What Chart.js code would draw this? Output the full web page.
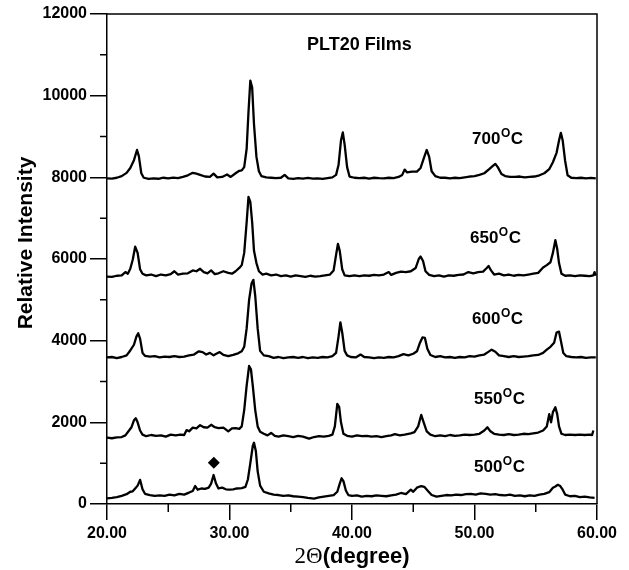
<!DOCTYPE html>
<html>
<head>
<meta charset="utf-8">
<script src="https://cdn.jsdelivr.net/npm/chart.js@4"></script>
<style>
  html, body { margin: 0; padding: 0; background: #fff; }
  #wrap { width: 629px; height: 570px; }
</style>
</head>
<body>
<div id="wrap"><canvas id="c" width="629" height="570"></canvas></div>
<script>
// ---- data (2θ in degrees, intensity in counts) ----
const angles700 = [20.0,20.4,20.8,21.2,21.6,21.9,22.2,22.45,22.6,22.8,23.0,23.4,23.8,24.2,24.6,25.0,25.4,25.8,26.2,26.6,27.0,27.3,27.6,28.0,28.4,28.7,29.0,29.4,29.8,30.1,30.5,30.8,31.0,31.2,31.4,31.55,31.7,31.85,32.0,32.2,32.4,32.6,33.0,33.4,33.8,34.2,34.5,34.8,35.2,35.6,36.0,36.4,36.8,37.2,37.6,38.0,38.4,38.7,38.9,39.1,39.25,39.4,39.6,39.8,40.2,40.6,41.0,41.4,41.8,42.2,42.6,43.0,43.4,43.8,44.1,44.3,44.5,44.9,45.3,45.6,45.9,46.1,46.3,46.5,46.8,47.2,47.6,48.0,48.4,48.8,49.2,49.6,50.0,50.4,50.8,51.2,51.5,51.7,51.9,52.2,52.5,52.9,53.3,53.7,54.1,54.5,54.9,55.3,55.7,56.1,56.4,56.7,56.9,57.05,57.2,57.4,57.6,57.9,58.3,58.7,59.1,59.5,59.9];
const counts700 = [7975,7970,7990,8030,8110,8230,8420,8670,8520,8100,7990,7960,7975,7965,7990,7975,7995,7980,8010,8050,8110,8090,8060,8020,8010,8090,8000,8010,8070,8010,8100,8160,8170,8250,8700,9600,10370,10200,9300,8500,8150,8030,8000,7990,7980,7990,8060,7975,7960,7980,7970,7985,7970,7975,7960,7980,8000,8060,8300,8900,9100,8800,8250,8020,7990,7980,7990,7970,7990,7980,7975,7990,7980,8010,8060,8190,8120,8140,8140,8230,8500,8670,8500,8150,8030,7990,7990,7975,7990,7980,8000,8020,8030,8060,8100,8200,8280,8330,8250,8080,8030,8010,8010,8020,8000,8010,8020,8050,8100,8200,8370,8600,8900,9090,8900,8400,8050,7990,7980,7990,7975,7985,7975];

const angles650 = [20.0,20.4,20.8,21.2,21.5,21.7,21.9,22.1,22.3,22.5,22.7,22.9,23.2,23.6,24.0,24.4,24.8,25.2,25.5,25.8,26.2,26.6,27.0,27.3,27.6,27.9,28.2,28.5,28.8,29.1,29.5,29.9,30.2,30.5,30.8,31.0,31.2,31.4,31.55,31.7,31.85,32.0,32.2,32.4,32.7,33.0,33.4,33.8,34.2,34.6,35.0,35.4,35.8,36.2,36.6,37.0,37.4,37.8,38.2,38.5,38.7,38.85,39.0,39.2,39.4,39.8,40.2,40.6,41.0,41.4,41.8,42.2,42.6,43.0,43.2,43.6,44.0,44.4,44.8,45.2,45.45,45.6,45.8,46.0,46.3,46.7,47.1,47.5,47.9,48.3,48.7,49.1,49.5,49.9,50.3,50.7,51.0,51.15,51.35,51.6,52.0,52.4,52.8,53.2,53.6,54.0,54.4,54.8,55.2,55.6,55.9,56.2,56.4,56.6,56.75,56.9,57.1,57.4,57.8,58.2,58.6,59.0,59.4,59.7,59.8,59.9];
const counts650 = [5570,5560,5590,5600,5680,5640,5760,5980,6300,6150,5750,5640,5600,5620,5580,5620,5600,5630,5700,5620,5640,5650,5720,5700,5760,5680,5650,5720,5630,5650,5700,5660,5640,5700,5780,5850,6150,6900,7520,7400,6900,6200,5900,5700,5620,5640,5600,5620,5580,5600,5570,5600,5580,5560,5590,5570,5580,5600,5620,5720,6100,6370,6200,5750,5600,5580,5600,5580,5600,5590,5610,5600,5620,5680,5610,5660,5690,5680,5700,5780,6000,6060,5950,5700,5610,5580,5600,5570,5600,5590,5610,5620,5680,5650,5680,5690,5780,5830,5720,5620,5640,5600,5620,5590,5610,5600,5620,5640,5660,5790,5850,5920,6150,6460,6250,5900,5640,5590,5600,5580,5600,5590,5580,5600,5680,5590];

const angles600 = [20.0,20.4,20.8,21.2,21.6,21.9,22.2,22.4,22.55,22.7,22.9,23.1,23.5,23.9,24.3,24.7,25.1,25.5,25.9,26.3,26.7,27.1,27.5,27.8,28.1,28.4,28.7,29.0,29.2,29.5,29.9,30.3,30.7,31.0,31.2,31.4,31.6,31.8,31.95,32.1,32.3,32.5,32.8,33.2,33.6,34.0,34.4,34.8,35.2,35.6,36.0,36.4,36.8,37.2,37.6,38.0,38.4,38.7,38.9,39.05,39.2,39.4,39.6,39.9,40.3,40.7,41.0,41.4,41.8,42.2,42.6,43.0,43.4,43.8,44.2,44.6,45.0,45.3,45.55,45.75,45.95,46.15,46.4,46.8,47.2,47.6,48.0,48.4,48.8,49.2,49.6,50.0,50.4,50.8,51.1,51.4,51.7,52.0,52.4,52.8,53.2,53.6,54.0,54.4,54.8,55.2,55.6,55.9,56.2,56.5,56.7,56.9,57.05,57.25,57.5,57.9,58.3,58.7,59.1,59.5,59.9];
const counts600 = [3590,3600,3575,3600,3640,3760,3900,4100,4180,4050,3700,3630,3610,3620,3590,3610,3600,3620,3600,3610,3640,3660,3740,3720,3660,3700,3640,3690,3720,3650,3620,3650,3690,3740,3850,4300,5000,5400,5490,5100,4300,3750,3640,3620,3580,3600,3570,3590,3600,3580,3600,3570,3590,3580,3600,3590,3620,3700,4100,4450,4200,3750,3640,3600,3590,3660,3600,3590,3570,3590,3580,3600,3590,3620,3670,3640,3680,3740,3950,4080,4070,3800,3650,3600,3620,3590,3600,3580,3600,3590,3620,3610,3640,3660,3720,3780,3730,3640,3620,3600,3620,3600,3610,3620,3640,3650,3700,3780,3850,3950,4200,4220,4000,3700,3620,3600,3590,3600,3580,3590,3590];

const angles550 = [20.0,20.4,20.8,21.2,21.5,21.8,22.0,22.2,22.35,22.5,22.7,22.9,23.2,23.6,24.0,24.4,24.8,25.2,25.6,26.0,26.3,26.5,26.7,27.0,27.3,27.6,27.9,28.2,28.5,28.8,29.1,29.5,29.9,30.2,30.5,30.8,31.0,31.2,31.4,31.6,31.75,31.9,32.1,32.3,32.5,32.8,33.1,33.4,33.7,34.0,34.4,34.8,35.2,35.6,36.0,36.5,36.9,37.3,37.7,38.1,38.4,38.6,38.8,38.95,39.1,39.3,39.6,40.0,40.4,40.8,41.2,41.6,42.0,42.4,42.8,43.2,43.5,43.9,44.3,44.8,45.1,45.4,45.65,45.85,46.1,46.4,46.8,47.2,47.6,48.0,48.4,48.8,49.2,49.6,50.0,50.4,50.8,51.05,51.3,51.6,52.0,52.4,52.8,53.2,53.6,54.0,54.4,54.8,55.2,55.6,55.9,56.1,56.25,56.4,56.6,56.75,56.9,57.1,57.4,57.8,58.2,58.6,59.0,59.4,59.6,59.7];
const counts550 = [1625,1610,1630,1640,1680,1800,1880,2050,2100,2000,1800,1700,1660,1690,1670,1680,1650,1700,1680,1700,1690,1810,1780,1870,1850,1930,1880,1870,1940,1880,1860,1870,1780,1850,1860,1840,1900,2300,2900,3380,3300,2900,2300,1900,1770,1720,1680,1740,1670,1650,1680,1660,1640,1670,1650,1600,1640,1660,1650,1670,1700,1900,2450,2380,2000,1720,1670,1650,1680,1660,1670,1650,1660,1640,1660,1680,1710,1680,1700,1730,1760,1900,2180,2000,1780,1700,1660,1680,1660,1690,1670,1680,1700,1690,1700,1720,1800,1880,1780,1720,1700,1690,1710,1690,1700,1720,1710,1730,1750,1800,1900,2200,2000,2250,2370,2200,1900,1720,1690,1700,1690,1700,1690,1700,1690,1800];

const angles500 = [20.0,20.4,20.8,21.2,21.6,21.9,22.1,22.3,22.5,22.7,22.9,23.1,23.5,23.9,24.3,24.7,25.1,25.5,25.9,26.3,26.7,27.0,27.2,27.4,27.7,28.0,28.3,28.5,28.7,28.9,29.1,29.4,29.7,30.0,30.3,30.6,31.0,31.3,31.5,31.7,31.9,32.0,32.15,32.3,32.5,32.8,33.2,33.6,34.0,34.4,34.8,35.2,35.6,36.0,36.4,36.9,37.3,37.7,38.1,38.5,38.8,39.0,39.15,39.3,39.5,39.7,40.0,40.4,40.8,41.2,41.6,42.0,42.4,42.8,43.2,43.6,44.0,44.4,44.8,45.0,45.3,45.65,45.9,46.2,46.5,46.9,47.3,47.7,48.1,48.5,48.9,49.3,49.7,50.1,50.5,50.9,51.3,51.7,52.1,52.5,52.9,53.3,53.7,54.1,54.5,54.9,55.3,55.7,56.1,56.4,56.6,56.8,57.0,57.2,57.4,57.8,58.2,58.6,59.0,59.4,59.8];
const counts500 = [140,150,170,200,240,300,310,380,450,590,360,250,220,200,210,200,230,210,250,230,280,320,440,350,380,370,400,500,710,500,380,400,360,350,360,380,390,420,600,1000,1420,1500,1300,800,450,300,260,230,220,200,210,190,180,170,150,130,160,180,200,220,300,500,630,560,330,220,200,210,180,200,190,210,200,190,210,230,270,240,350,300,400,440,420,320,220,180,200,220,210,230,220,240,250,230,260,250,230,240,220,210,230,200,210,190,210,200,230,250,290,400,430,470,440,350,230,190,200,170,180,160,150];

// tick values
const xMajorTicks = [20, 30, 40, 50, 60];
const xMinorTicks = [25, 35, 45, 55];
const yMajorTicks = [0, 2000, 4000, 6000, 8000, 10000, 12000];
const yMinorTicks = [1000, 3000, 5000, 7000, 9000, 11000];

// annotations: [text, 2θ, intensity]
const tempLabels = [
  ["700", 49.8, 8816],
  ["650", 49.63, 6392],
  ["600", 49.8, 4408],
  ["550", 49.96, 2449],
  ["500", 49.96, 784]
];
const titleLabel = ["PLT20 Films", 36.33, 11118];
const impurityMark = [{x: 28.72, y: 1011}];

function pts(a, c) { return a.map((v, i) => ({x: v, y: c[i]})); }
function line(a, c) {
  return { data: pts(a, c), borderColor: '#000', borderWidth: 2.3, pointRadius: 0,
           tension: 0, fill: false, showLine: true, borderJoinStyle: 'round' };
}

const SANS = '"Liberation Sans", Arial, sans-serif';

const extras = {
  id: 'extras',
  afterDraw(chart) {
    const ctx = chart.ctx, xs = chart.scales.x, ys = chart.scales.y, ca = chart.chartArea;
    ctx.save();
    ctx.strokeStyle = '#000';
    ctx.lineWidth = 1.5;
    // frame top/right
    ctx.beginPath();
    ctx.moveTo(ca.left, ca.top); ctx.lineTo(ca.right, ca.top); ctx.lineTo(ca.right, ca.bottom);
    ctx.stroke();
    // minor ticks
    ctx.beginPath();
    yMinorTicks.forEach(v => { const y = ys.getPixelForValue(v); ctx.moveTo(ca.left - 7, y); ctx.lineTo(ca.left, y); });
    xMinorTicks.forEach(v => { const x = xs.getPixelForValue(v); ctx.moveTo(x, ca.bottom); ctx.lineTo(x, ca.bottom + 8); });
    ctx.stroke();

    ctx.fillStyle = '#000';
    ctx.textBaseline = 'alphabetic';
    ctx.textAlign = 'left';
    // title
    ctx.font = 'bold 18px ' + SANS;
    ctx.fillText(titleLabel[0], xs.getPixelForValue(titleLabel[1]), ys.getPixelForValue(titleLabel[2]));
    // temperature labels with superscript O
    tempLabels.forEach(([t, a, c]) => {
      let x = xs.getPixelForValue(a), y = ys.getPixelForValue(c);
      ctx.font = 'bold 17px ' + SANS;
      ctx.fillText(t, x, y); x += ctx.measureText(t).width + 0.5;
      ctx.font = 'bold 12px ' + SANS;
      ctx.fillText('O', x, y - 7); x += ctx.measureText('O').width + 0.5;
      ctx.font = 'bold 17px ' + SANS;
      ctx.fillText('C', x, y);
    });
    // y title
    ctx.save();
    ctx.translate(32, 243);
    ctx.rotate(-Math.PI / 2);
    ctx.textAlign = 'center';
    ctx.font = 'bold 21px ' + SANS;
    ctx.fillText('Relative Intensity', 0, 0);
    ctx.restore();
    // x title: serif "2Θ" + bold sans "(degree)"
    const p1 = '2Θ', p2 = '(degree)';
    ctx.font = '23px "Liberation Serif", "Times New Roman", serif';
    const w1 = ctx.measureText(p1).width;
    ctx.font = 'bold 22px ' + SANS;
    const w2 = ctx.measureText(p2).width;
    let sx = (ca.left + ca.right) / 2 - (w1 + w2) / 2;
    ctx.font = '23px "Liberation Serif", "Times New Roman", serif';
    ctx.fillText(p1, sx, 563);
    ctx.font = 'bold 22px ' + SANS;
    ctx.fillText(p2, sx + w1, 563);
    ctx.restore();
  }
};

new Chart(document.getElementById('c'), {
  type: 'scatter',
  data: {
    datasets: [
      line(angles700, counts700),
      line(angles650, counts650),
      line(angles600, counts600),
      line(angles550, counts550),
      line(angles500, counts500),
      { data: impurityMark, pointStyle: 'rectRot', pointRadius: 6, backgroundColor: '#000', borderColor: '#000', borderWidth: 0, showLine: false }
    ]
  },
  options: {
    responsive: false,
    animation: false,
    events: [],
    layout: { padding: { top: 14, right: 32, left: 0, bottom: 0 } },
    plugins: { legend: { display: false }, tooltip: { enabled: false } },
    scales: {
      x: {
        type: 'linear', min: 20, max: 60,
        afterBuildTicks(s) { s.ticks = xMajorTicks.map(v => ({value: v})); },
        afterFit(s) { s.height = 66; },
        ticks: { callback: v => v.toFixed(2), color: '#000', font: { family: SANS, size: 16, weight: 'bold' }, padding: 4, maxRotation: 0, autoSkip: false },
        grid: { drawOnChartArea: false, drawTicks: true, tickLength: 16, color: '#000', lineWidth: 1.5 },
        border: { display: true, color: '#000', width: 1.5 }
      },
      y: {
        type: 'linear', min: 0, max: 12000,
        afterBuildTicks(s) { s.ticks = yMajorTicks.map(v => ({value: v})); },
        afterFit(s) { s.width = 107; },
        ticks: { callback: v => String(v), color: '#000', font: { family: SANS, size: 16, weight: 'bold' }, padding: 3, autoSkip: false },
        grid: { drawOnChartArea: false, drawTicks: true, tickLength: 17, color: '#000', lineWidth: 1.5 },
        border: { display: true, color: '#000', width: 1.5 }
      }
    }
  },
  plugins: [extras]
});
</script>
</body>
</html>
